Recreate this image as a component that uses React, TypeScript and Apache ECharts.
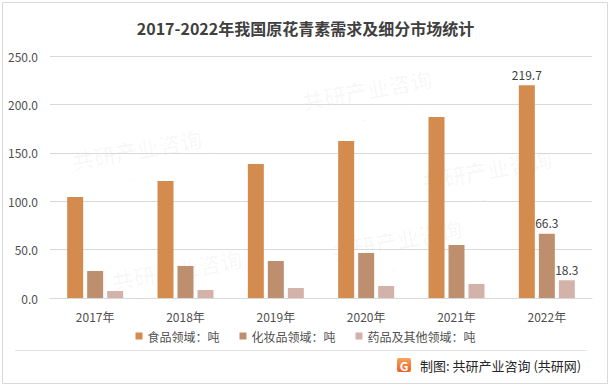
import React, { useEffect, useRef } from "react";
import * as echarts from "echarts";

const categories = ["2017年", "2018年", "2019年", "2020年", "2021年", "2022年"];
const foodValues = [104.3, 120.9, 138.4, 162.2, 187.0, 219.7];
const cosmeticValues = [27.9, 33.1, 38.2, 46.5, 54.8, 66.3];
const pharmaValues = [7.2, 8.3, 10.3, 12.4, 14.5, 18.3];
const seriesNames = ["食品领域：吨", "化妆品领域：吨", "药品及其他领域：吨"];
const colors = ["#D48C4E", "#BE8F6F", "#D3B3A9"];
const titleText = "2017-2022年我国原花青素需求及细分市场统计";
const sourceText = "制图: 共研产业咨询 (共研网)";

const FONT = "'Noto Sans CJK SC', 'Noto Sans', sans-serif";

function withLastLabel(values: number[]) {
  return values.map((v, i) =>
    i === values.length - 1
      ? { value: v, label: { show: true } }
      : { value: v }
  );
}

export default function App() {
  const ref = useRef<HTMLDivElement>(null);
  useEffect(() => {
    if (!ref.current) return;
    const chart = echarts.init(ref.current, null, { renderer: "svg" });
    const barLabel = {
      show: false,
      position: "top",
      distance: 5,
      color: "#404040",
      fontSize: 12,
      fontFamily: FONT,
      formatter: (p: any) => Number(p.value).toFixed(1),
    };
    const watermarks: any[] = [];
    const wmPos = [
      [70, 150], [300, 90], [110, 270], [330, 240], [420, 170],
    ];
    wmPos.forEach(([x, y]) => {
      watermarks.push({
        type: "text",
        x,
        y,
        rotation: 0.18,
        silent: true,
        style: {
          text: "共研产业咨询",
          fill: "rgba(0,0,0,0.028)",
          font: `bold 22px ${FONT}`,
        },
      });
      watermarks.push({
        type: "text",
        x: x + 6,
        y: y + 28,
        rotation: 0.18,
        silent: true,
        style: {
          text: "w w w . g o n y n . c o m",
          fill: "rgba(0,0,0,0.028)",
          font: `14px ${FONT}`,
        },
      });
    });
    chart.setOption({
      animation: false,
      backgroundColor: "#ffffff",
      title: {
        text: titleText,
        left: "center",
        top: 15,
        textStyle: {
          fontFamily: FONT,
          fontSize: 16,
          fontWeight: "bold",
          color: "#404040",
        },
      },
      legend: {
        data: seriesNames,
        bottom: 41,
        left: "center",
        icon: "rect",
        itemWidth: 7,
        itemHeight: 7,
        itemGap: 20,
        textStyle: { fontFamily: FONT, fontSize: 12, color: "#505050" },
      },
      grid: { left: 50, right: 19, top: 56, bottom: 90, containLabel: false },
      xAxis: {
        type: "category",
        data: categories,
        axisLine: { lineStyle: { color: "#D9D9D9" } },
        axisTick: { show: false },
        axisLabel: {
          fontFamily: FONT,
          fontSize: 12,
          color: "#505050",
          margin: 12,
        },
      },
      yAxis: {
        type: "value",
        min: 0,
        max: 250,
        interval: 50,
        axisLine: { show: false },
        axisTick: { show: false },
        splitLine: { lineStyle: { color: "#D9D9D9" } },
        axisLabel: {
          fontFamily: FONT,
          fontSize: 12,
          color: "#505050",
          margin: 12,
          formatter: (v: number) => v.toFixed(1),
        },
      },
      series: [
        {
          name: seriesNames[0],
          type: "bar",
          data: withLastLabel(foodValues),
          itemStyle: { color: colors[0] },
          barWidth: 16,
          barGap: "25%",
          label: barLabel,
        },
        {
          name: seriesNames[1],
          type: "bar",
          data: withLastLabel(cosmeticValues),
          itemStyle: { color: colors[1] },
          barWidth: 16,
          barGap: "25%",
          label: barLabel,
        },
        {
          name: seriesNames[2],
          type: "bar",
          data: withLastLabel(pharmaValues),
          itemStyle: { color: colors[2] },
          barWidth: 16,
          barGap: "25%",
          label: barLabel,
        },
      ],
      graphic: [
        ...watermarks,
        {
          type: "rect",
          shape: { x: 2.5, y: 2.5, width: 605, height: 381 },
          silent: true,
          style: { fill: "none", stroke: "#D9D9D9", lineWidth: 1 },
        },
        {
          type: "line",
          shape: { x1: 15, y1: 350.5, x2: 587, y2: 350.5 },
          silent: true,
          style: { stroke: "#E3E3E3", lineWidth: 1 },
        },
        {
          type: "group",
          x: 397,
          y: 358,
          children: [
            {
              type: "rect",
              shape: { x: 0, y: 0, width: 14, height: 14, r: 2 },
              style: {
                fill: new echarts.graphic.LinearGradient(0, 0, 0, 1, [
                  { offset: 0, color: "#F7A35C" },
                  { offset: 1, color: "#E8602C" },
                ]),
              },
            },
            {
              type: "text",
              x: 7,
              y: 7,
              style: {
                text: "G",
                fill: "#ffffff",
                font: `bold 12px ${FONT}`,
                align: "center",
                verticalAlign: "middle",
              },
            },
          ],
        },
        {
          type: "text",
          x: 420,
          y: 365,
          style: {
            text: sourceText,
            fill: "#262626",
            font: `13px ${FONT}`,
            verticalAlign: "middle",
          },
        },
      ],
    });
    return () => chart.dispose();
  }, []);
  return (
    <div
      ref={ref}
      style={{ position: "fixed", left: 0, top: 0, width: 611, height: 388 }}
    />
  );
}
